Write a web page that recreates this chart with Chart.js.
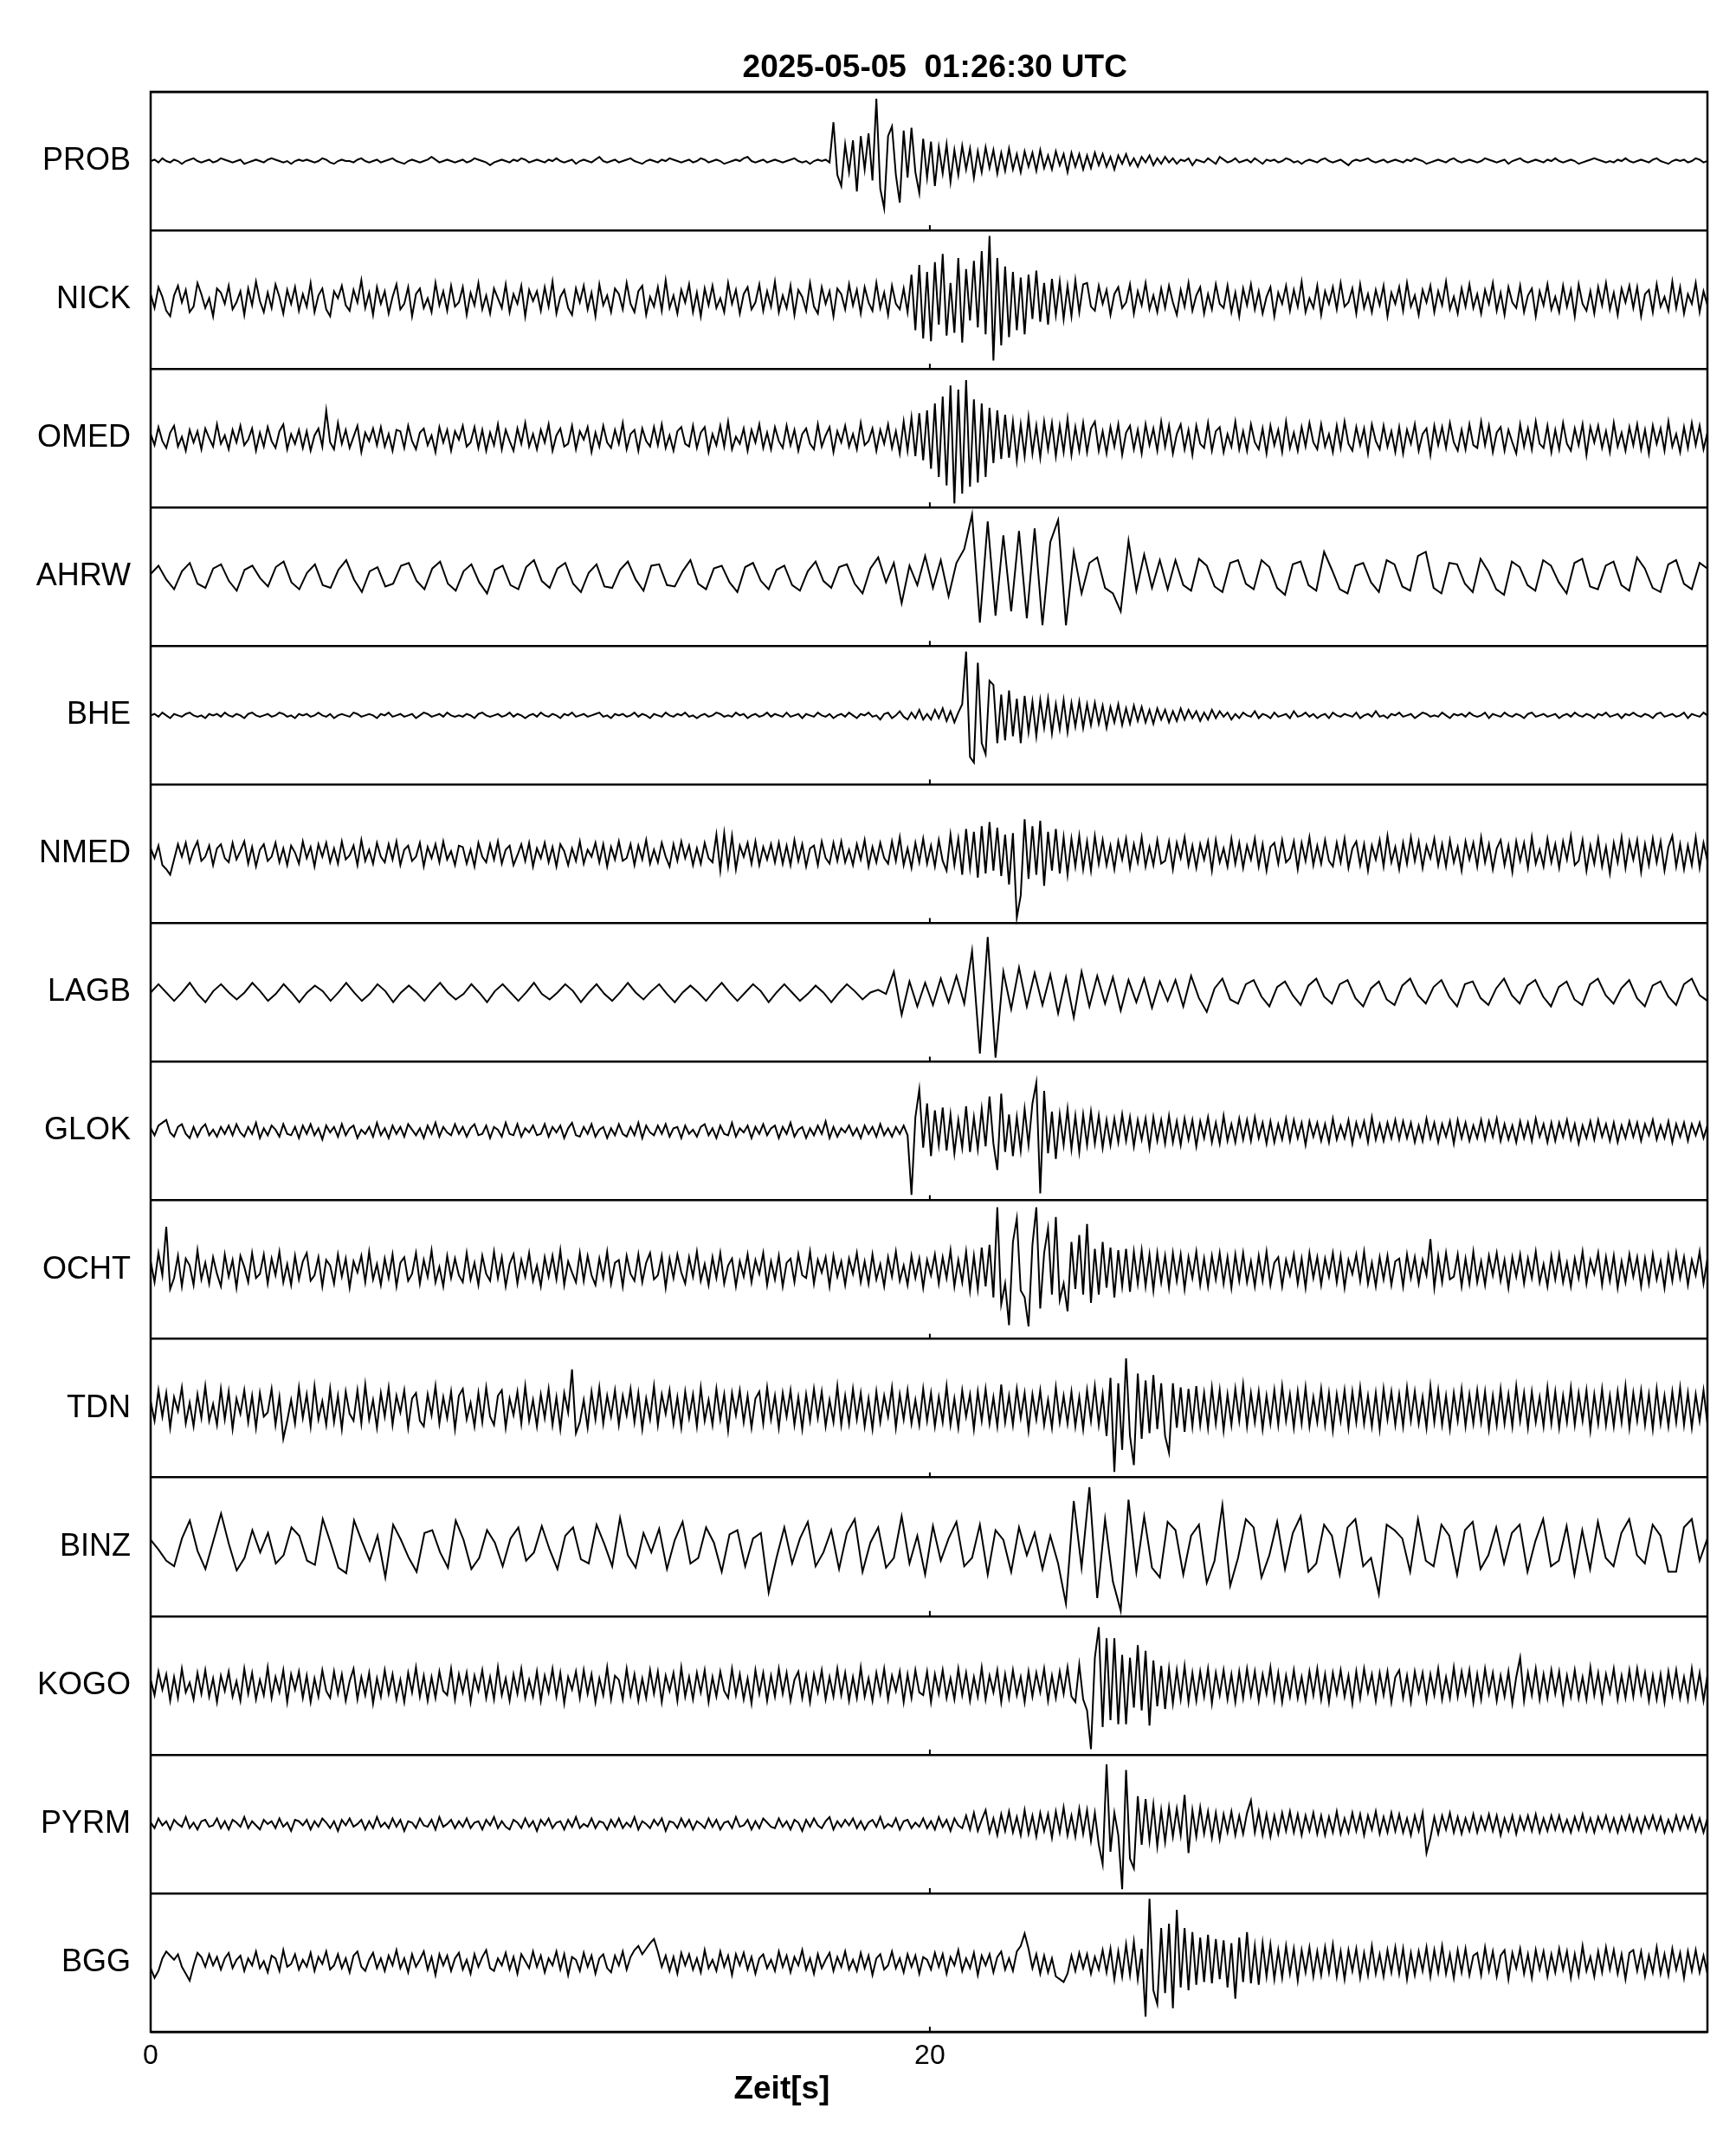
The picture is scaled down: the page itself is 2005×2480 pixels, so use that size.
<!DOCTYPE html>
<html>
<head>
<meta charset="utf-8">
<script src="https://cdn.jsdelivr.net/npm/chart.js@4.4.0/dist/chart.umd.min.js"></script>
<style>
html,body{margin:0;padding:0;background:#fff;}
</style>
</head>
<body>
<canvas id="myChart" width="2005" height="2480"></canvas>
<script>
// station names, top to bottom
var stations=['PROB','NICK','OMED','AHRW','BHE','NMED','LAGB','GLOK','OCHT','TDN','BINZ','KOGO','PYRM','BGG'];
var xTicks=[0,20];
var tMax=39.96;
var titleText='2025-05-05  01:26:30 UTC';
var xTitle='Zeit[s]';

// amplitudes (units: ~1/100 of a trace row, up = positive)
// noisy traces: one sample per 0.1 s, smooth ones (AHRW, LAGB, BINZ): one per 0.2 s
var prob=[0,1,-1,2,0,-1,1,0,-2,0,1,2,0,-1,0,1,-1,0,2,1,
0,-1,0,1,-2,-1,0,1,0,-1,1,2,1,0,-1,0,-2,0,1,0,
1,0,-1,0,2,1,-1,-2,0,1,0,0,-1,1,2,0,-1,0,1,-1,
0,1,2,0,-1,-2,0,1,0,-1,0,1,3,1,-1,0,1,0,-1,0,
1,-1,0,2,1,0,-1,-3,-1,0,1,0,-1,1,0,2,1,-1,0,1,
0,-1,1,0,2,0,-1,0,1,-2,0,1,0,-1,1,3,0,-1,0,1,
-1,0,1,2,0,-1,-2,0,1,0,-1,1,0,2,1,0,-1,0,1,-1,
0,2,1,-1,0,1,0,-2,-1,0,1,0,2,3,0,-1,0,1,-1,0,
1,0,-1,0,1,2,0,-1,0,-2,0,1,0,1,-1,28,-10,-18,12,-8,
15,-22,18,-6,20,-14,45,-20,-34,18,25,-10,-30,22,-12,24,-8,-23,16,-12,
14,-18,10,-9,12,-15,8,-10,11,-6,9,-12,7,-8,10,-5,8,-9,6,-7,
9,-6,5,-8,7,-4,6,-7,8,-5,4,-6,7,-3,5,-8,6,-4,5,-6,
4,-5,6,-3,5,-4,3,-6,4,-2,5,-3,2,-4,3,-1,4,-3,2,-2,
3,-1,2,-2,1,0,2,-3,1,0,-1,2,0,-2,3,1,-1,0,2,-1,
0,1,-1,2,0,-2,1,0,1,-1,0,2,1,-1,0,-2,0,1,0,-1,
1,2,0,-1,0,1,-1,-3,0,1,0,1,2,0,-1,0,1,-1,0,1,
0,-1,1,0,2,1,0,-2,-1,0,1,0,-1,1,2,0,-1,0,1,0,
-1,0,2,1,0,-1,0,1,-2,0,1,2,0,-1,0,1,0,-1,1,0,
2,0,-1,0,1,0,-2,-1,0,1,2,1,0,-1,0,-1,1,0,2,0,
-1,0,1,0,-1,1,2,0,-1,-2,0,1,0,1,-1,0,2,1,-1,0];
var nick=[4,-6,9,2,-8,-12,3,10,-2,7,-9,-5,12,4,-6,1,-12,8,5,-3,
10,-7,-2,6,-11,8,-4,13,-1,-9,5,-6,11,2,-10,7,-3,9,-8,4,
-5,12,-9,3,8,-7,-12,6,1,10,-4,-8,7,-2,14,-6,5,-11,9,-3,
6,-10,2,11,-7,-3,9,-12,4,8,-6,1,-9,12,-4,6,-8,10,-5,-2,
9,-11,5,-4,12,-7,3,-10,8,1,-6,11,-9,4,-3,10,-12,7,-1,6,
-8,9,-5,13,-10,2,7,-6,-11,8,-2,10,-7,5,-12,11,-4,3,-9,8,
4,-7,12,-3,-9,6,10,-11,2,-5,9,-8,14,-6,3,-10,7,-2,11,-9,
5,-12,8,-4,10,-6,1,-9,12,-3,7,-10,4,9,-7,-2,11,-8,6,-5,
13,-9,3,-6,10,-11,7,2,-8,12,-5,-10,9,-3,6,-12,8,4,-7,11,
-4,7,-10,9,-2,-8,12,-6,5,-11,10,-3,-7,8,-9,18,-22,25,-28,20,
-30,27,-18,33,-26,12,-24,30,-31,22,-15,28,-20,35,-25,46,-44,30,-33,24,
-27,20,-22,16,-25,18,-14,21,-16,12,-18,15,-11,13,-14,10,-12,14,-9,11,
12,-5,-8,10,-3,7,-11,4,9,-6,-2,11,-10,6,-4,12,-7,3,-9,8,
-6,10,-2,-11,7,-5,12,-8,3,9,-10,4,-7,11,-3,-6,10,-9,5,-12,
8,-4,11,-7,6,-10,2,9,-12,5,-3,10,-8,7,-5,13,-9,1,-6,10,
-11,6,-3,9,-7,12,-5,-2,8,-10,11,-6,4,-9,7,-4,10,-12,5,-3,
9,-8,12,-5,3,-11,7,-2,10,-9,6,-4,13,-7,2,-10,8,-5,11,-6,
4,-10,7,-3,12,-8,5,-11,9,-2,-6,10,-9,3,8,-12,6,-4,11,-7,
2,-9,10,-5,7,-12,11,-3,-8,6,-10,9,-4,12,-7,5,-11,8,-2,10,
-6,9,-12,4,7,-9,11,-5,2,-8,13,-6,9,-10,4,-3,12,-9,6,-4];
var omed=[3,-5,8,-2,-7,4,9,-6,1,-9,6,-3,5,-8,7,0,-6,10,-4,2,
-8,6,-3,9,-5,-1,7,-9,4,-6,8,-2,-7,5,10,-8,3,-4,6,-7,
5,-9,2,7,-6,20,-3,-8,11,-4,6,-7,1,9,-10,4,-2,7,-5,8,
-6,3,-9,6,5,-7,9,-2,-8,4,7,-5,2,-10,8,-3,6,-9,5,-1,
9,-6,-3,8,-7,6,-9,4,-5,10,-8,6,-2,-9,7,-4,11,-6,3,-8,
6,-3,10,-9,2,7,-6,-4,9,-8,5,-1,8,-10,4,-6,9,-3,-7,6,
-4,11,-8,3,6,-9,7,-2,-6,8,-5,10,-7,2,-9,5,8,-4,-6,9,
-7,4,8,-10,3,-5,9,-6,12,-8,1,-4,7,-9,6,-3,10,-7,4,-8,
8,-2,-7,9,-5,6,-9,3,7,-4,-8,10,-6,2,8,-10,5,-3,9,-6,
3,-8,11,-5,-2,7,-9,6,-4,10,-7,5,-11,12,-9,15,-13,18,-16,20,
-22,25,-28,30,-34,38,-47,35,-40,42,-35,28,-32,25,-28,22,-18,20,-15,17,
-14,12,-16,10,-13,15,-11,9,-14,12,-8,11,-13,9,-10,14,-12,8,-9,11,
-10,7,12,-9,5,-11,8,-6,10,-12,4,9,-8,6,-11,10,-5,7,-9,12,
-6,9,-11,3,10,-8,6,-12,9,-4,-7,11,-9,5,8,-10,3,-6,12,-8,
5,-9,10,-3,-8,7,-11,9,-5,6,-10,12,-7,4,-9,8,-6,11,-3,-8,
10,-6,3,-10,9,-7,12,-4,-9,8,-5,7,-11,10,-2,-8,9,-6,5,-10,
8,-11,6,-4,10,-9,3,7,-12,9,-5,8,-7,11,-3,-9,6,-8,10,-5,
-7,12,-5,9,-10,4,8,-9,6,-3,-11,10,-6,7,-8,12,-4,-7,9,-10,
6,-8,11,-4,-9,7,-5,10,-12,8,-3,9,-7,5,-10,11,-6,4,-9,8,
-5,10,-8,6,-11,9,-4,7,-9,12,-6,3,-10,8,-7,11,-5,9,-8,4];
var ahrw=[2,8,-2,-9,4,10,-5,-8,6,9,-3,-10,5,8,-1,-7,7,11,-4,-9,
3,9,-6,-8,5,12,-2,-11,4,7,-7,-5,8,10,-3,-9,6,11,-5,-10,
4,9,-4,-12,5,8,-6,-9,7,12,-3,-8,6,10,-5,-11,3,9,-7,-8,
5,11,-2,-10,8,9,-6,-7,4,12,-5,-9,6,8,-4,-11,7,10,-3,-9,
5,8,-6,-10,4,11,-3,-8,7,9,-5,-12,6,14,-4,10,-19,8,-6,15,
-8,12,-14,10,20,45,-33,40,-28,30,-25,33,-30,35,-35,25,41,-35,18,-12,
10,14,-8,-12,-25,26,-10,16,-8,12,-9,12,-6,-10,13,8,-7,-11,10,12,
-5,-9,12,7,-8,-13,9,11,-6,-10,18,5,-9,-12,8,10,-4,-11,12,9,
-7,-10,15,18,-8,-12,10,9,-5,-11,13,4,-9,-13,11,7,-6,-10,12,8,
-4,-12,10,13,-7,-9,8,11,-6,-10,14,6,-8,-11,9,12,-5,-9,10,6];
var bhe=[0,1,-1,2,0,-2,1,0,-1,1,2,0,-1,0,-2,1,0,1,-1,2,
0,-1,1,0,-2,1,2,0,-1,0,1,-1,0,2,1,-1,0,-2,1,0,
1,-1,0,2,0,-1,1,-2,0,1,0,-1,2,1,-1,0,1,0,-2,1,
0,2,-1,0,1,-1,0,1,-2,0,2,1,-1,0,1,-1,2,0,-1,0,
-1,1,0,-2,1,2,0,-1,0,1,-1,0,2,-1,1,0,-2,0,1,-1,
2,0,-1,1,0,-2,1,0,2,-1,0,1,-1,0,1,2,-1,0,-2,1,
0,1,-1,0,2,-1,1,0,-2,1,0,-1,2,0,-1,1,0,2,-1,0,
-2,0,1,-1,0,2,1,-1,0,-1,2,0,1,-2,0,1,-1,0,2,-1,
1,0,-1,2,-1,0,1,-2,1,0,-1,2,0,-1,1,-2,0,1,-1,2,
0,-2,1,0,2,-1,0,-3,1,2,-2,0,3,-1,-3,2,-2,4,-3,1,
-3,4,-2,5,-4,3,-5,2,8,46,-30,-34,38,-20,-28,25,22,-20,15,-18,
18,-15,12,-20,14,-12,10,-15,11,-9,12,-13,8,-10,11,-12,9,-8,10,-9,
8,-7,9,-6,7,-9,6,-5,8,-7,5,-6,7,-4,6,-5,4,-6,5,-3,
4,-5,3,-4,5,-3,4,-2,3,-4,2,-3,4,-2,3,-1,2,-3,1,-2,
2,0,-1,3,-2,1,0,-2,2,-1,0,1,-2,3,-1,0,2,-1,1,-2,
0,1,-2,2,0,-1,1,0,-1,2,-2,0,1,-1,3,-1,0,-2,1,0,
2,-1,0,1,-2,0,2,1,-1,0,-1,2,0,-2,1,0,1,-1,2,0,
-1,0,2,-2,1,0,-1,2,0,-1,1,0,-2,1,2,-1,0,1,-1,0,
1,-2,0,1,-1,2,0,-1,1,0,-2,1,0,2,-1,0,1,-2,1,0,
2,0,-1,1,0,-2,1,2,-1,0,1,-1,0,2,-2,1,0,-1,2,0];
var nmed=[4,-3,6,-8,-11,-15,-4,7,-2,8,-6,3,9,-5,-2,6,-8,4,7,-3,
-6,8,-4,2,9,-7,5,-9,3,7,-5,-2,8,-6,4,-8,6,1,-7,9,
-3,5,-9,7,-2,8,-6,4,-7,9,-4,-1,6,-8,10,-5,3,-7,8,-2,
-6,7,-4,9,-8,3,6,-5,-2,8,-9,5,-3,7,-6,9,-4,2,-8,6,
5,-7,3,-9,8,-2,-6,7,-4,9,-7,3,6,-8,-1,7,-5,8,-9,4,
-3,8,-6,5,-9,7,2,-8,4,-5,9,-7,3,-2,8,-6,7,-9,5,-4,
9,-5,-3,7,-8,6,-4,10,-7,3,-6,8,-2,-9,7,-5,9,-3,6,-8,
4,-7,8,-3,-6,14,-12,15,-9,13,-11,6,-2,8,-7,9,-8,5,-4,7,
-6,8,-7,6,-8,10,-5,7,-9,4,6,-8,9,-3,-7,8,-5,9,-6,3,
-8,7,-4,10,-9,5,-6,8,-3,-7,9,-5,12,-8,4,-10,8,-6,11,-7,
6,-9,10,-5,-12,14,-8,11,-15,18,-10,16,-17,20,-14,23,-12,19,-16,14,
-22,15,-46,-30,25,-18,20,-15,24,-23,16,-12,18,-14,12,-15,11,-9,13,-11,
9,-12,13,-7,10,-8,6,-11,9,-4,11,-10,7,-6,12,-9,5,-8,10,-7,
-5,9,-11,8,-3,12,-8,6,-10,7,-4,9,-12,10,-6,4,-9,11,-7,8,
-10,6,-4,11,-9,7,-12,5,8,-7,10,-6,-3,9,-11,8,-5,12,-8,6,
-7,10,-5,-9,8,-6,11,-10,4,9,-8,7,-12,6,-4,10,-9,13,-6,5,
-11,8,-7,12,-5,9,-10,6,-3,11,-8,7,-9,10,-6,5,-12,9,-4,8,
-9,12,-6,7,-11,4,10,-8,6,-13,9,-5,8,-10,12,-7,3,-9,11,-6,
7,-10,9,-4,13,-8,-5,10,-12,6,-7,11,-9,5,-14,8,-6,12,-10,9,
-4,10,-13,7,-8,11,-6,9,-12,5,13,-9,7,-11,6,-8,12,-10,8,-5];
var lagb=[0,6,0,-6,0,7,-1,-7,1,6,0,-5,0,7,1,-6,-1,6,0,-7,
0,5,1,-6,0,7,0,-6,-1,6,1,-7,0,5,0,-6,1,7,0,-5,
-1,6,0,-7,1,6,0,-6,0,7,-1,-5,0,6,1,-7,0,6,-1,-6,
0,7,0,-5,1,6,-1,-7,0,5,0,-6,1,7,0,-6,0,6,1,-7,
0,6,0,-6,-1,5,0,-7,0,6,1,-5,0,2,-1,15,-16,8,-10,7,
-9,10,-7,12,-8,30,-44,40,-47,15,-12,18,-10,14,-9,13,-15,11,-18,15,
-10,12,-8,11,-13,9,-7,10,-11,8,-6,9,-10,12,-4,-14,3,10,-5,-8,
6,9,-3,-10,4,8,-2,-9,5,10,-3,-8,6,9,-4,-10,3,8,-5,-9,
5,10,-2,-8,4,9,-3,-10,6,8,-4,-9,3,10,-2,-8,5,9,-3,-10,
4,8,-5,-9,6,10,-2,-8,3,9,-4,-10,5,8,-3,-9,6,10,-2,-6];
var glok=[2,-3,4,6,8,-1,-4,3,5,-2,-5,3,-4,2,5,-3,1,-4,3,-2,
4,-3,5,-1,-4,3,-2,6,-5,2,-3,4,1,-4,5,-2,-3,3,-5,4,
-2,5,-3,2,-6,4,-1,3,-4,5,-3,2,4,-5,1,-2,3,-4,6,-3,
2,-5,4,-2,3,-4,5,1,-3,2,-5,4,-2,6,-4,3,-1,-3,5,-2,
3,-4,2,5,-3,-2,4,-5,3,1,-4,6,-2,-3,5,-4,2,-1,4,-3,
-2,5,-4,3,-1,4,-5,2,6,-3,-4,3,-2,5,-4,1,3,-5,2,-3,
5,-2,-4,3,-3,6,-5,4,-1,-3,4,-2,5,-4,2,3,-5,4,-2,1,
-4,3,5,-3,2,-5,4,-2,-3,6,-4,2,-1,4,-5,3,-2,5,-3,2,
4,-5,3,-2,6,-4,1,3,-5,2,-3,4,-2,7,-5,3,-4,2,-1,4,
-3,2,-5,4,-2,3,-4,5,-3,2,-4,3,-2,4,-3,-46,10,30,-12,20,
-18,15,-10,17,-14,12,-16,8,-12,18,-15,10,-13,16,-11,25,-9,-28,27,-15,
12,-18,10,-14,16,-10,20,35,-45,29,-16,14,-20,12,-10,16,-13,11,-15,12,
-10,14,-9,11,-12,8,-10,9,-8,12,-7,10,-11,8,-6,9,-12,10,-7,8,
-9,11,-8,7,-10,9,-6,8,-11,7,-5,10,-8,6,-9,11,-7,5,-8,9,
-6,8,-7,10,-5,6,-9,7,-8,5,-6,9,-7,8,-5,6,-10,7,-4,6,
-7,5,-8,9,-6,4,-5,8,-9,6,-4,7,-8,10,-6,5,-7,6,-5,8,
-6,7,-5,6,-8,4,-7,9,-5,6,-8,5,-4,7,-9,8,-5,6,-7,4,
-5,8,-6,7,-4,9,-7,5,-6,4,-8,7,-5,6,-7,9,-4,5,-8,6,
-7,6,-4,8,-6,5,-9,4,-5,7,-6,8,-4,5,-7,6,-8,4,-5,7,
-4,6,-7,5,-3,8,-6,4,-5,7,-8,5,-4,6,-7,5,-3,6,-5,4];
var ocht=[6,-9,12,-4,31,-14,-6,10,-12,8,3,-11,14,-7,5,-10,9,-3,-12,11,
-5,7,-13,10,2,-9,12,-6,-3,11,-10,8,-4,13,-9,4,-11,10,-7,6,
12,-8,-4,9,-12,7,3,-10,11,-5,8,-13,6,-2,10,-9,13,-7,4,-11,
8,-6,11,-12,5,9,-8,-3,12,-10,7,-5,14,-9,2,-12,10,-6,8,-4,
-9,12,-7,5,-11,10,-3,-8,13,-6,9,-12,4,11,-10,7,-5,12,-8,3,
-12,9,-5,10,-7,14,-11,6,-2,-9,12,-8,10,-4,-11,8,-6,13,-10,5,
7,-12,10,-3,-8,11,-9,5,12,-7,-4,10,-13,8,-6,11,-2,-10,9,-5,
13,-8,4,-11,9,-6,12,-10,3,8,-12,6,-5,11,-9,7,-3,12,-11,6,
-7,10,-12,5,8,-9,11,-4,-6,13,-10,7,-2,9,-12,10,-5,6,-11,8,
-3,12,-9,6,-10,11,-7,4,-12,9,-5,13,-8,3,-11,10,-6,8,-13,7,
-4,11,-10,9,-6,14,-12,7,-9,13,-15,10,-14,16,-12,18,-20,45,-25,-10,
-40,20,37,-15,-20,-41,18,45,-28,12,30,-18,38,-22,-10,-30,20,-14,25,-18,
33,-24,15,-18,20,-13,16,-20,14,-12,15,-16,13,-10,14,-12,11,-15,12,-9,
10,-13,12,-8,11,-14,9,-6,13,-11,8,-12,10,-7,12,-10,9,-13,11,-8,
12,-9,6,-12,10,-8,13,-11,5,9,-12,7,-4,11,-10,8,-13,12,-6,9,
-11,8,-5,12,-9,10,-13,7,-3,11,-8,13,-10,5,-12,9,-7,10,-11,6,
8,-12,11,-6,9,-10,7,-4,22,-13,10,-9,12,-7,-5,11,-12,8,-10,13,
-9,6,-11,10,-4,12,-8,7,-13,9,-5,11,-10,8,-6,13,-9,4,-12,10,
-7,11,-9,5,-12,8,-6,13,-10,7,-3,12,-11,9,-8,10,-13,6,-9,11,
-5,9,-12,8,-10,11,-7,6,-13,10,-8,12,-6,9,-11,7,-4,13,-10,8];
var tdn=[5,-9,13,-6,11,-14,8,-2,15,-11,4,-13,10,-7,16,-9,3,-12,14,-8,
12,-15,7,-4,13,-10,9,-14,11,-6,-3,14,-12,8,-22,-9,6,-11,15,-7,
10,-13,16,-8,5,-12,14,-10,9,-15,12,-4,-9,13,-11,17,-8,6,-14,11,
-6,15,-12,9,-3,13,-14,7,11,-9,-13,10,-5,16,-11,8,-7,12,-15,9,
14,-8,4,-13,11,-10,15,-6,-12,9,13,-14,7,-5,12,-11,16,-9,6,-13,
10,-7,14,-12,8,-15,11,-3,28,-18,-10,6,-14,12,-8,15,-11,9,-6,13,
-12,9,-5,14,-10,11,-15,7,-8,16,-12,10,-4,13,-11,8,-14,12,-7,10,
-13,15,-9,6,-12,14,-8,10,-16,11,-5,13,-10,9,-14,7,12,-11,15,-8,
9,-14,11,-6,13,-12,8,-15,10,-9,14,-7,12,-13,6,-10,16,-12,9,-11,
14,-8,11,-13,7,-15,12,-10,9,-6,15,-14,10,-8,13,-11,6,-12,14,-9,
11,-13,8,-10,16,-12,7,-14,13,-6,10,-15,12,-9,14,-11,8,-13,17,-10,
9,-12,14,-7,11,-16,10,-8,13,-12,6,-14,15,-10,9,-11,12,-13,8,-15,
13,-9,16,-12,10,-20,22,-46,18,-30,36,-20,-41,25,-22,20,-18,24,-15,18,
-20,-32,18,-14,15,-17,14,-13,16,-12,11,-14,15,-11,13,-16,10,-12,14,-9,
17,-13,11,-10,12,-15,9,-11,13,-12,16,-9,10,-14,12,-11,15,-13,8,-10,
14,-12,11,-16,10,-9,13,-14,12,-10,15,-11,9,-13,11,-15,14,-8,12,-12,
10,-13,15,-9,12,-11,8,-14,16,-10,13,-12,9,-15,11,-9,14,-13,10,-11,
13,-10,12,-15,9,-12,14,-11,10,-13,16,-9,11,-14,12,-10,8,-13,15,-11,
12,-14,9,-10,15,-12,11,-9,13,-16,10,-11,14,-12,9,-13,12,-10,16,-14,
11,-9,13,-12,10,-15,14,-11,9,-13,12,-10,15,-12,11,-14,10,-9,13,-11];
var binz=[5,-2,-10,-14,6,19,-3,-16,4,24,2,-17,-8,12,-4,10,-12,-6,14,8,
-10,-13,20,3,-15,-19,19,4,-10,8,-22,16,5,-8,-18,10,12,-4,-15,19,
5,-16,-8,12,3,-14,6,14,-10,-4,15,-2,-16,8,14,-9,-12,16,2,-14,
21,-6,-15,10,-4,13,-16,5,18,-12,-8,14,3,-18,9,12,-14,6,10,-33,
-8,14,-12,6,18,-14,-4,12,-16,10,20,-18,3,14,-15,-8,22,-12,8,-20,
15,-10,6,18,-14,-8,16,-20,12,5,-18,14,-6,10,-16,8,-12,-41,33,-15,
43,-37,20,-25,-46,34,-18,22,-15,-22,18,12,-20,8,16,-26,-10,30,-28,-8,
20,14,-22,-6,18,-16,10,22,-18,-12,16,8,-20,14,20,-14,-8,-34,16,12,
6,-18,20,-10,-14,16,8,-20,12,18,-16,-6,14,-12,10,16,-18,4,20,-14,
-10,15,-20,12,-16,18,-8,-14,10,20,-6,-12,16,8,-18,-18,14,20,-10,6];
var kogo=[4,-7,10,-3,8,-11,6,-9,12,-5,2,-10,9,-6,11,-8,5,-12,7,-4,
10,-8,3,-11,12,-6,9,-10,4,-7,13,-9,6,-5,11,-12,8,-3,10,-9,
7,-12,5,-8,11,-4,-9,10,-6,8,-11,3,12,-10,6,-7,9,-13,5,-8,
11,-6,8,-10,4,-12,9,-5,13,-8,7,-11,6,-9,10,-4,-7,12,-10,8,
-5,9,-12,7,-4,11,-9,6,-10,13,-7,5,-11,8,-6,12,-9,4,-8,10,
-11,7,-5,12,-8,9,-13,6,-3,10,-9,11,-6,8,-12,5,-7,13,-10,7,
4,-10,12,-7,8,-11,5,-9,11,-6,10,-12,7,-4,9,-11,13,-8,6,-10,
9,-5,11,-12,6,-8,10,-4,-9,12,-7,8,-10,5,-13,11,-6,9,-11,7,
-8,12,-6,9,-11,4,10,-9,7,-12,8,-5,11,-10,6,-8,12,-7,9,-11,
6,-9,13,-8,5,-11,9,-6,12,-10,7,-4,10,-12,8,-9,11,-5,-7,10,
-12,8,-6,11,-9,5,-10,12,-7,9,-11,6,-8,13,-10,7,-5,11,-12,8,
-9,11,-7,6,-12,10,-8,9,-5,12,-11,7,-9,10,-6,13,-8,-12,15,-10,
-18,-46,20,42,-30,34,-25,34,-28,22,-28,20,-16,29,-18,25,-29,18,-15,14,
-17,12,-13,11,-10,14,-12,9,-11,10,-8,12,-13,9,-7,11,-10,8,-12,10,
-9,12,-7,10,-11,8,-6,13,-10,9,-12,7,-8,11,-9,6,-11,10,-7,12,
-10,8,-12,9,-6,11,-8,7,-13,10,-9,12,-5,8,-11,9,-7,10,-12,6,
11,-9,7,-12,10,-5,9,-11,8,-7,12,-10,6,-9,13,-8,10,-6,11,-12,
8,-10,12,-6,9,-11,7,-8,10,-13,6,20,-11,9,-7,12,-10,8,-9,11,
-6,10,-12,7,-8,11,-9,6,-10,13,-7,9,-11,8,-5,12,-10,7,-9,11,
-8,12,-6,9,-11,7,-10,8,-12,10,-7,11,-9,6,-10,12,-8,9,-11,7];
var pyrm=[1,-3,4,-1,2,-4,3,0,-2,5,-3,1,-4,2,3,-2,-1,4,-3,2,
-4,3,1,-2,5,-3,2,-1,-4,3,0,2,-3,4,-2,1,-5,3,2,-1,
3,-4,2,-2,4,1,-3,2,-5,3,-1,4,-2,0,3,-4,2,-3,5,-2,
1,-3,4,-2,3,-5,2,1,-3,4,-1,-2,3,-4,5,-2,0,3,-3,2,
-2,4,-3,1,2,-4,3,-1,5,-3,2,-2,-4,3,1,-3,4,-2,2,-5,
3,-1,4,-3,1,2,-4,3,-2,5,-3,0,-2,4,-3,2,1,-4,3,-2,
4,-3,1,-2,5,-4,2,0,-3,3,-1,4,-5,2,1,-3,4,-2,3,-4,
2,0,-3,4,-2,3,-4,1,2,-3,5,-2,-1,3,-4,2,-3,4,1,-2,
-3,4,-2,2,-4,3,1,-5,3,-2,4,-1,-3,2,5,-4,2,-2,3,-1,
4,-3,2,-4,1,3,-2,5,-3,0,-2,4,-4,2,3,-3,1,-2,4,-3,
2,-4,5,-2,3,-5,4,-1,-3,6,-4,8,-5,3,10,-6,4,-8,7,-5,
9,-6,5,-8,10,-7,6,-9,8,-5,7,-10,9,-6,12,-8,6,-9,11,-7,
10,-12,8,-15,-29,43,-20,8,-8,-47,39,-25,-32,20,-15,18,-12,14,-16,10,
-13,12,-9,11,-8,21,-21,10,-9,12,-7,9,-10,8,-11,7,-6,9,-8,6,
-7,8,17,-6,9,-8,7,-9,6,-7,8,-5,9,-6,7,-8,6,-5,8,-7,
6,-8,5,-6,9,-7,4,-6,8,-5,7,-8,6,-4,9,-7,5,-6,8,-5,
7,-6,4,-8,6,-5,8,-21,-10,5,-7,6,-4,8,-6,5,-7,4,-5,7,
-6,5,-4,7,-5,6,-8,4,-5,6,-7,5,-4,6,-5,7,-6,4,-5,6,
-4,6,-5,3,-6,5,-4,7,-5,4,-6,5,-3,6,-5,4,-6,5,-4,6,
-5,4,-6,5,-3,6,-4,5,-6,3,-5,6,-4,5,-3,6,-5,4,-6,4];
var bgg=[-4,-11,-6,3,8,5,2,6,-3,-8,-13,-2,7,4,-3,6,-2,4,-5,3,
7,-4,2,5,-6,3,-2,8,-4,1,-7,5,3,-6,9,-3,-1,6,-5,2,
-3,7,-6,4,-1,8,-5,-2,6,-4,3,-7,5,8,-3,-6,2,7,-4,3,
-6,5,-2,9,-4,3,-7,6,-3,2,8,-5,4,-9,6,-2,5,-6,3,7,
-5,2,-8,6,-3,4,9,-4,-6,3,-2,7,-5,4,-8,6,1,-4,8,-3,
5,-7,3,-2,8,-5,6,-9,4,2,-6,7,-3,5,-8,3,6,-4,-7,5,
-2,8,-5,4,9,12,6,10,14,17,8,-3,5,-6,4,-8,7,-2,6,-5,
3,-7,9,-4,2,-6,8,-3,5,-9,6,-2,7,-5,4,-8,3,6,-4,2,
-6,8,-3,5,-7,4,-2,9,-5,3,-8,6,-4,2,7,-6,4,-3,8,-5,
2,-6,7,-4,5,-9,3,6,-5,-2,8,-4,3,-7,6,-3,5,-8,4,2,
-5,7,-3,6,-8,4,-2,9,-6,3,-4,7,-9,5,-2,6,-7,4,8,-5,
3,-6,8,12,21,10,-4,6,-8,5,-7,3,-10,-12,-14,-8,5,-6,7,-4,
6,-8,4,-5,9,-7,10,-12,8,-10,13,-9,15,-12,10,-39,46,-20,-30,25,
-22,28,-33,38,-18,25,-20,22,-16,18,-14,20,-15,17,-12,16,-18,14,-26,18,
-14,22,-15,12,-16,14,-10,13,-12,9,-11,12,-8,10,-13,9,-7,11,-10,8,
-9,11,-7,13,-10,8,-12,9,-6,10,-11,7,-9,12,-8,6,-10,9,-7,11,
-8,10,-12,7,-9,8,-6,11,-10,9,-7,12,-8,6,-11,9,-7,10,-9,5,
7,-9,11,-6,8,-10,5,9,-12,7,-4,10,-8,6,-11,9,-5,8,-10,6,
-7,10,-5,8,-11,6,-9,12,-6,4,-10,8,-7,11,-5,9,-8,6,-12,7,
9,-6,8,-10,5,-7,11,-8,6,-9,10,-5,7,-11,8,-6,9,-7,5,-8];

var traces=[prob,nick,omed,ahrw,bhe,nmed,lagb,glok,ocht,tdn,binz,kogo,pyrm,bgg];
var nRows=stations.length;

Chart.defaults.font.family='"Liberation Sans", Arial, Helvetica, sans-serif';
Chart.defaults.color='#000';

// each trace sits in its own row: row i is centred on nRows-0.5-i
var datasets=traces.map(function(vals,i){
    var dt=tMax/(vals.length-1);
    return {
        label:stations[i],
        data:vals.map(function(v,k){return {x:k*dt,y:nRows-0.5-i+v/100};}),
        borderColor:'#000',
        borderWidth:2,
        pointRadius:0,
        fill:false,
        tension:0
    };
});

// frame, the little ticks at 20 s in each row, title and axis title
var framePlugin={
    id:'frame',
    afterDatasetsDraw:function(chart){
        var ctx=chart.ctx, a=chart.chartArea, x=chart.scales.x, y=chart.scales.y;
        ctx.save();
        ctx.strokeStyle='#000';
        ctx.lineWidth=2.5;
        ctx.strokeRect(a.left,a.top,a.right-a.left,a.bottom-a.top);
        ctx.lineWidth=2;
        for(var t=1;t<xTicks.length;t++){
            var px=x.getPixelForValue(xTicks[t]);
            for(var j=0;j<nRows;j++){
                var py=y.getPixelForValue(j);
                ctx.beginPath();
                ctx.moveTo(px,py);
                ctx.lineTo(px,py-6);
                ctx.stroke();
            }
        }
        ctx.fillStyle='#000';
        ctx.textAlign='center';
        ctx.textBaseline='middle';
        ctx.font='bold 37px "Liberation Sans", Arial, sans-serif';
        ctx.fillText(titleText,x.getPixelForValue(20.13),a.top-27);
        ctx.fillText(xTitle,x.getPixelForValue(16.2),a.bottom+67);
        ctx.restore();
    }
};

var rowTicks=[];
for(var j=0;j<=nRows*2;j++){rowTicks.push(j/2);}

const ctx=document.getElementById('myChart').getContext('2d');
const myChart=new Chart(ctx,{
    type:'line',
    data:{datasets:datasets},
    options:{
        responsive:false,
        animation:false,
        layout:{padding:{left:0,right:33,top:106,bottom:0}},
        plugins:{legend:{display:false},tooltip:{enabled:false},title:{display:false}},
        scales:{
            x:{
                type:'linear',
                min:0,
                max:tMax,
                afterBuildTicks:function(s){s.ticks=xTicks.map(function(v){return {value:v};});},
                afterFit:function(s){s.height=133;},
                grid:{display:false,drawTicks:false},
                border:{display:false},
                ticks:{font:{size:32},color:'#000',padding:9,maxRotation:0,autoSkip:false}
            },
            y:{
                type:'linear',
                min:0,
                max:nRows,
                afterBuildTicks:function(s){s.ticks=rowTicks.map(function(v){return {value:v};});},
                afterFit:function(s){s.width=174;},
                grid:{
                    drawTicks:false,
                    lineWidth:2.5,
                    color:function(c){return (c.tick && c.tick.value%1===0)?'#000':'rgba(0,0,0,0)';}
                },
                border:{display:false},
                ticks:{
                    font:{size:36},
                    color:'#000',
                    padding:23,
                    autoSkip:false,
                    callback:function(value){
                        if(value%1===0) return '';
                        return stations[Math.round(nRows-0.5-value)];
                    }
                }
            }
        }
    },
    plugins:[framePlugin]
});
</script>
</body>
</html>
